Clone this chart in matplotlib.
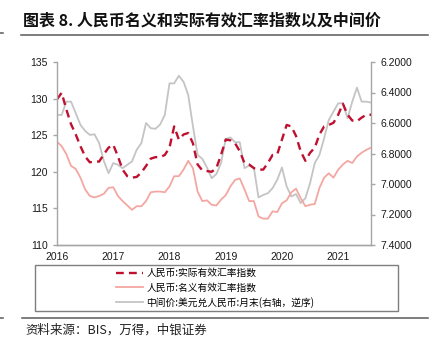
import matplotlib
matplotlib.use("Agg")
import matplotlib.pyplot as plt
from matplotlib.lines import Line2D
from matplotlib.patches import Rectangle

plt.rcParams['font.family'] = ['Liberation Sans', 'Noto Sans CJK SC', 'DejaVu Sans']

# monthly data, Jan 2016 - Aug 2021
years = ['2016', '2017', '2018', '2019', '2020', '2021']
reer = [129.9, 130.8, 128.5, 126.5, 125.1, 123.5, 122.1, 121.3, 121.4, 121.4, 122.4, 123.3,
        123.7, 122.1, 120.3, 119.4, 119.2, 119.3, 119.9, 120.8, 121.8, 122.0, 122.0, 122.3,
        123.3, 126.2, 124.4, 125.1, 125.3, 123.9, 121.0, 120.2, 120.1, 120.0, 120.5, 122.3,
        124.4, 124.3, 123.9, 122.8, 121.2, 121.0, 120.5, 120.3, 120.3, 121.2, 122.3, 122.4,
        124.4, 126.4, 126.2, 124.9, 122.8, 121.5, 122.6, 123.3, 125.1, 126.2, 126.4, 126.7,
        127.8, 129.3, 127.8, 127.0, 126.9, 127.4, 127.8, 127.8]
neer = [124.1, 123.5, 122.4, 120.8, 120.4, 119.2, 117.6, 116.7, 116.5, 116.7, 117.0, 117.8,
        117.9, 116.7, 116.0, 115.4, 114.8, 115.3, 115.3, 116.0, 117.2, 117.3, 117.3, 117.2,
        118.0, 119.4, 119.4, 120.3, 121.5, 120.5, 117.3, 116.0, 116.1, 115.5, 115.4, 116.2,
        116.8, 118.0, 118.9, 119.1, 117.6, 116.0, 116.0, 113.9, 113.6, 113.6, 114.6, 114.5,
        115.7, 116.1, 117.2, 117.7, 116.4, 115.3, 115.5, 115.6, 117.8, 119.2, 119.8, 119.2,
        120.3, 121.0, 121.5, 121.2, 122.1, 122.6, 123.0, 123.3]
cny = [6.547, 6.547, 6.460, 6.460, 6.536, 6.612, 6.652, 6.678, 6.674, 6.732, 6.850, 6.929,
       6.863, 6.874, 6.896, 6.874, 6.852, 6.776, 6.732, 6.600, 6.634, 6.638, 6.610, 6.547,
       6.340, 6.340, 6.290, 6.330, 6.416, 6.620, 6.809, 6.835, 6.892, 6.962, 6.935, 6.863,
       6.704, 6.695, 6.726, 6.726, 6.896, 6.879, 6.892, 7.088, 7.072, 7.060, 7.027, 6.972,
       6.892, 7.016, 7.082, 7.066, 7.125, 7.093, 6.994, 6.863, 6.809, 6.700, 6.580, 6.525,
       6.471, 6.471, 6.569, 6.460, 6.368, 6.460, 6.460, 6.466]
labels = ['人民币:实际有效汇率指数', '人民币:名义有效汇率指数', '中间价:美元兑人民币:月末(右轴，逆序)']

red = '#C0102F'
pink = '#F4A7A2'
grey = '#C4C4C4'
axcol = '#A6A6A6'
x = list(range(len(reer)))

fig = plt.figure(figsize=(4.34, 3.46), dpi=100)
ax = fig.add_axes([57/434, 1-245/346, 314/434, 183/346])
ax2 = ax.twinx()
ax.set_zorder(ax2.get_zorder() + 1)
ax.patch.set_visible(False)

l3, = ax2.plot(x, cny, color=grey, lw=1.3)
l2, = ax.plot(x, neer, color=pink, lw=1.3)
l1, = ax.plot(x, reer, color=red, lw=1.7, linestyle=(0, (3.3, 2.2)))

ax.set_xlim(0, len(reer) - 1)
ax.set_ylim(110, 135)
ax.set_yticks(range(110, 136, 5))
ax2.set_ylim(7.4, 6.2)
ax2.set_yticks([6.2, 6.4, 6.6, 6.8, 7.0, 7.2, 7.4])
ax2.set_yticklabels(['%.4f' % v for v in [6.2, 6.4, 6.6, 6.8, 7.0, 7.2, 7.4]])
ax.set_xticks(range(0, 61, 12))
ax.set_xticklabels(years)

for a in (ax, ax2):
    a.spines['top'].set_visible(False)
    for s in ('left', 'right', 'bottom'):
        a.spines[s].set_color(axcol)
        a.spines[s].set_linewidth(1.0)
    a.tick_params(axis='y', colors=axcol, labelcolor='#1a1a1a', labelsize=7.5, length=3, width=1)
ax.spines['right'].set_visible(False)
ax2.spines['left'].set_visible(False)
ax.tick_params(axis='x', length=0, pad=5, labelsize=7.5, labelcolor='#1a1a1a')

# title and rules
fig.text(23/434, 1-20.5/346, '图表 8. 人民币名义和实际有效汇率指数以及中间价',
         family=['Noto Sans CJK SC', 'DejaVu Sans'], fontsize=11.5, fontweight='bold',
         va='center', ha='left', color='#111111')
for y, x0, x1 in [(35, 21, 428), (33, 0, 3), (318, 22, 428), (318, 0, 3)]:
    fig.add_artist(Line2D([x0/434, x1/434], [1-y/346, 1-y/346], color='#5a5a5a', lw=1.1,
                          transform=fig.transFigure))

fig.text(25/434, 1-330/346, '资料来源：BIS，万得，中银证券', family=['Noto Sans CJK SC', 'DejaVu Sans'],
         fontsize=9, style='italic', va='center', ha='left', color='#222222')

# legend box and entries
fig.add_artist(Rectangle((35/434, 1-311/346), 363/434, 46/346, fill=False,
                         edgecolor='#7f7f7f', lw=1.0, transform=fig.transFigure))
fig.legend([l1, l2, l3], labels, loc='center', bbox_to_anchor=(215/434, 1-288/346),
           frameon=False, prop={'family': ['Noto Sans CJK SC', 'DejaVu Sans'], 'size': 7},
           handlelength=2.8, handletextpad=0.35, labelspacing=0.45, borderpad=0)

fig.savefig('out.png', dpi=100)
